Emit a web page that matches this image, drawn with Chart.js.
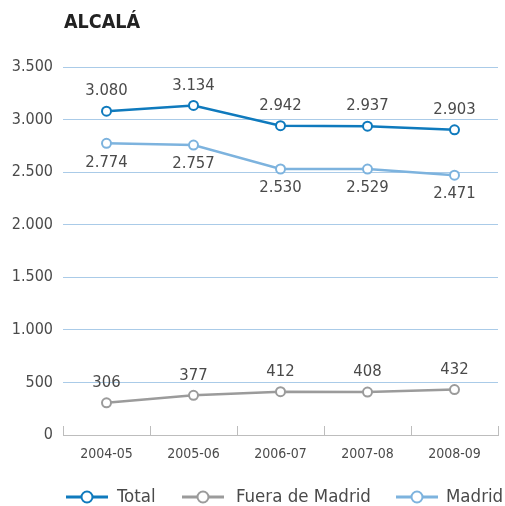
<!DOCTYPE html>
<html>
<head>
<meta charset="utf-8">
<script src="https://cdn.jsdelivr.net/npm/chart.js@4/dist/chart.umd.min.js"></script>
<style>
  html, body { margin: 0; padding: 0; background: #fff; }
  #c { display: block; }
</style>
</head>
<body>
<canvas id="c" width="505" height="506"></canvas>
<script>
'use strict';

const title = 'ALCALÁ';
const periods = ['2004-05', '2005-06', '2006-07', '2007-08', '2008-09'];
const totalVals = [3080, 3134, 2942, 2937, 2903];
const fueraVals = [306, 377, 412, 408, 432];
const madridVals = [2774, 2757, 2530, 2529, 2471];
const yTicks = [0, 500, 1000, 1500, 2000, 2500, 3000, 3500];

const FONT = '"DejaVu Sans Condensed", "DejaVu Sans", sans-serif';
const TXT = '#4a4a4a';
const C_TOTAL = '#0f7abd';
const C_FUERA = '#9b9b9b';
const C_MADRID = '#7db3de';

function fmt(v) {
  return String(v).replace(/\B(?=(\d{3})+(?!\d))/g, '.');
}

// data labels, title, axis ticks and legend
const extras = {
  id: 'extras',
  afterDatasetsDraw(chart) {
    const ctx = chart.ctx;
    const x = chart.scales.x;
    const area = chart.chartArea;
    ctx.save();

    // tick marks on x axis (pointing up)
    ctx.strokeStyle = '#bdbdbd';
    ctx.lineWidth = 1;
    const step = x.getPixelForValue(1) - x.getPixelForValue(0);
    for (let i = 0; i <= periods.length; i++) {
      const px = Math.round(x.getPixelForValue(0) - step / 2 + i * step) + 0.5;
      ctx.beginPath();
      ctx.moveTo(px, area.bottom);
      ctx.lineTo(px, area.bottom - 9);
      ctx.stroke();
    }

    // value labels
    ctx.font = '16.5px ' + FONT;
    ctx.fillStyle = TXT;
    ctx.textAlign = 'center';
    ctx.textBaseline = 'middle';
    chart.data.datasets.forEach((ds, di) => {
      const meta = chart.getDatasetMeta(di);
      meta.data.forEach((pt, i) => {
        const off = ds.labelPos === 'below' ? 19 : -20;
        ctx.fillText(fmt(ds.data[i]), pt.x, pt.y + off);
      });
    });

    // title
    ctx.font = 'bold 19.5px ' + FONT;
    ctx.fillStyle = '#222';
    ctx.textAlign = 'left';
    ctx.fillText(title, 64, 23);

    // legend
    const items = [
      { label: 'Total', color: C_TOTAL, x: 66, tx: 117 },
      { label: 'Fuera de Madrid', color: C_FUERA, x: 182, tx: 236 },
      { label: 'Madrid', color: C_MADRID, x: 396, tx: 446 },
    ];
    const ly = 497;
    ctx.font = '18.5px ' + FONT;
    items.forEach(it => {
      ctx.strokeStyle = it.color;
      ctx.lineWidth = 3;
      ctx.beginPath();
      ctx.moveTo(it.x, ly);
      ctx.lineTo(it.x + 42, ly);
      ctx.stroke();
      ctx.beginPath();
      ctx.arc(it.x + 21, ly, 5.5, 0, Math.PI * 2);
      ctx.fillStyle = '#fff';
      ctx.fill();
      ctx.lineWidth = 2;
      ctx.stroke();
      ctx.fillStyle = TXT;
      ctx.fillText(it.label, it.tx, ly);
    });
    ctx.restore();
  }
};

function lineSet(label, data, color, labelPos) {
  return {
    label, data, labelPos,
    borderColor: color,
    backgroundColor: '#fff',
    borderWidth: 2.5,
    pointRadius: 4.5,
    pointBorderWidth: 2,
    pointBackgroundColor: '#fff',
    pointBorderColor: color,
    tension: 0,
    fill: false,
  };
}

new Chart(document.getElementById('c'), {
  type: 'line',
  data: {
    labels: periods,
    datasets: [
      lineSet('Fuera de Madrid', fueraVals, C_FUERA, 'above'),
      lineSet('Madrid', madridVals, C_MADRID, 'below'),
      lineSet('Total', totalVals, C_TOTAL, 'above'),
    ]
  },
  options: {
    responsive: false,
    animation: false,
    layout: { padding: { top: 67, right: 7, left: 0, bottom: 0 } },
    plugins: { legend: { display: false }, tooltip: { enabled: false } },
    scales: {
      x: {
        offset: true,
        afterFit: s => { s.height = 71; },
        grid: { display: false, drawTicks: false },
        border: { display: true, color: '#bdbdbd', width: 1 },
        ticks: { color: TXT, font: { family: FONT, size: 14 }, padding: 11, maxRotation: 0 }
      },
      y: {
        min: 0, max: 3500,
        afterFit: s => { s.width = 63; },
        afterBuildTicks: s => { s.ticks = yTicks.map(v => ({ value: v })); },
        grid: { color: ctx => ctx.tick.value === 0 ? 'rgba(0,0,0,0)' : '#aacbe8', lineWidth: 1, drawTicks: false },
        border: { display: false },
        ticks: { color: TXT, font: { family: FONT, size: 16 }, padding: 10, callback: v => fmt(v) }
      }
    }
  },
  plugins: [extras]
});
</script>
</body>
</html>
